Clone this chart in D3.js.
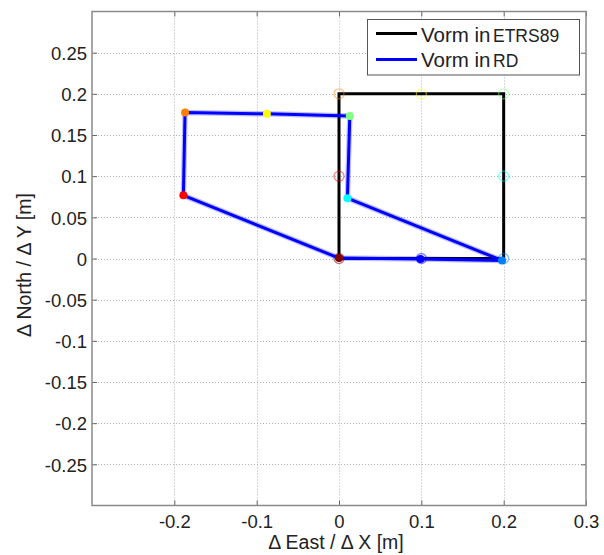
<!DOCTYPE html>
<html><head><meta charset="utf-8">
<script src="https://cdn.jsdelivr.net/npm/d3@7"></script>
<style>body{margin:0;background:#fff}svg{display:block}text{font-family:"Liberation Sans",Arial,sans-serif;fill:#222}</style>
</head><body><div id="c"></div>
<script>
const pointColors = ["#800000","#ff0000","#ff8000","#ffff00","#80ff80","#00ffff","#0080ff","#0000ff"];
const etrsX = [0, 0, 0, 0.1, 0.2, 0.2, 0.2, 0.1];
const etrsY = [0, 0.1, 0.2, 0.2, 0.2, 0.1, 0, 0];
const rdX = [0, -0.189, -0.187, -0.0876, 0.0131, 0.0102, 0.198, 0.099];
const rdY = [0.0005, 0.0767, 0.1773, 0.1757, 0.1731, 0.0733, -0.0024, -0.0007];
const xTicks = [-0.2, -0.1, 0, 0.1, 0.2, 0.3];
const yTicks = [0.25, 0.2, 0.15, 0.1, 0.05, 0, -0.05, -0.1, -0.15, -0.2, -0.25];
const legendLabels = [["Vorm in", "ETRS89"], ["Vorm in", "RD"]];
const legendColors = ["#000000", "#0000ff"];

const W = 604, H = 555;
const L = 92, R = 586, T = 11.5, B = 505.5;
const x = d3.scaleLinear().domain([-0.3, 0.3]).range([L, R]);
const y = d3.scaleLinear().domain([-0.3, 0.3]).range([B, T]);
const fmt = d => d3.format("~g")(d).replace("\u2212", "-");

const svg = d3.select("#c").append("svg").attr("width", W).attr("height", H);

// grid
const grid = svg.append("g").attr("stroke", "#b0b0b0").attr("stroke-width", 1).attr("stroke-dasharray", "1,2");
grid.selectAll("line.gx").data(xTicks.filter(d => d < 0.3)).join("line")
  .attr("x1", d => Math.round(x(d)) + 0.5).attr("x2", d => Math.round(x(d)) + 0.5).attr("y1", T).attr("y2", B);
grid.selectAll("line.gy").data(yTicks).join("line")
  .attr("y1", d => Math.round(y(d)) + 0.5).attr("y2", d => Math.round(y(d)) + 0.5).attr("x1", L).attr("x2", R);

// axes
const tickLen = 5;
const axB = d3.axisBottom(x).tickValues(xTicks).tickSizeInner(-tickLen).tickSizeOuter(0).tickFormat(fmt);
const axT = d3.axisTop(x).tickValues(xTicks).tickSizeInner(-tickLen).tickSizeOuter(0).tickFormat("");
const axL = d3.axisLeft(y).tickValues(yTicks).tickSizeInner(-tickLen).tickSizeOuter(0).tickPadding(6).tickFormat(fmt);
const axR = d3.axisRight(y).tickValues(yTicks).tickSizeInner(-tickLen).tickSizeOuter(0).tickFormat("");
function style(g){
  g.select(".domain").remove();
  g.selectAll(".tick line").attr("stroke", "#666");
  g.selectAll(".tick text").attr("font-size", 18.5).attr("fill", "#222").style("font-family", "'Liberation Sans',Arial,sans-serif");
}
svg.append("g").attr("transform", `translate(0,${B})`).call(axB).call(style)
  .selectAll(".tick text").attr("y", 22).attr("dy", null);
svg.append("g").attr("transform", `translate(0,${T})`).call(axT).call(style);
svg.append("g").attr("transform", `translate(${L},0)`).call(axL).call(style)
  .selectAll(".tick text").attr("x", -5).attr("dy", "0.36em");
svg.append("g").attr("transform", `translate(${R},0)`).call(axR).call(style);
svg.append("rect").attr("x", L).attr("y", T).attr("width", R - L).attr("height", B - T)
  .attr("fill", "none").attr("stroke", "#8a8a8a").attr("stroke-width", 1.5);

// ETRS square
const etrsOrder = [0,1,2,3,4,5,6,7,0];
const line = d3.line();
svg.append("path").attr("d", line([[0,0],[0,0.2],[0.2,0.2],[0.2,0],[0,0]].map(p => [x(p[0]), y(p[1])])))
  .attr("fill", "none").attr("stroke", "#000").attr("stroke-width", 3).attr("stroke-linejoin", "miter");
svg.append("g").selectAll("circle").data(etrsX).join("circle")
  .attr("cx", (d, i) => x(etrsX[i])).attr("cy", (d, i) => y(etrsY[i])).attr("r", 5)
  .attr("fill", "none").attr("stroke", (d, i) => pointColors[i]).attr("stroke-opacity", 0.5).attr("stroke-width", 1.3);

// RD polygon
svg.append("path").attr("d", line(etrsOrder.map(i => [x(rdX[i]), y(rdY[i])])))
  .attr("fill", "none").attr("stroke", "#0000ff").attr("stroke-opacity", 0.25).attr("stroke-width", 5.5).attr("stroke-linejoin", "round");
svg.append("path").attr("d", line(etrsOrder.map(i => [x(rdX[i]), y(rdY[i])])))
  .attr("fill", "none").attr("stroke", "#0000ff").attr("stroke-width", 3).attr("stroke-linejoin", "round");
svg.append("g").selectAll("circle").data(rdX).join("circle")
  .attr("cx", (d, i) => x(rdX[i])).attr("cy", (d, i) => y(rdY[i])).attr("r", 4)
  .attr("fill", (d, i) => pointColors[i]);

// axis titles
svg.append("text").attr("x", 336).attr("y", 548.5).attr("text-anchor", "middle").attr("font-size", 19.5).text("\u0394 East / \u0394 X [m]");
svg.append("text").attr("transform", `translate(31,265) rotate(-90)`).attr("text-anchor", "middle").attr("font-size", 19.5).text("\u0394 North / \u0394 Y [m]");

// legend
const lg = svg.append("g");
lg.append("rect").attr("x", 367.5).attr("y", 19.5).attr("width", 212).attr("height", 55.5)
  .attr("fill", "#fff").attr("stroke", "#555").attr("stroke-width", 1);
legendLabels.forEach((lab, i) => {
  const cy = 33.5 + i * 26;
  lg.append("line").attr("x1", 376).attr("x2", 417).attr("y1", cy).attr("y2", cy).attr("stroke", legendColors[i]).attr("stroke-width", 3);
  const t = lg.append("text").attr("x", 421).attr("y", 41.5 + i * 25).attr("font-size", 20.5).attr("fill", "#111");
  t.append("tspan").text(lab[0]);
  t.append("tspan").attr("x", 493).attr("font-size", 17.5).text(lab[1]);
});
</script></body></html>
